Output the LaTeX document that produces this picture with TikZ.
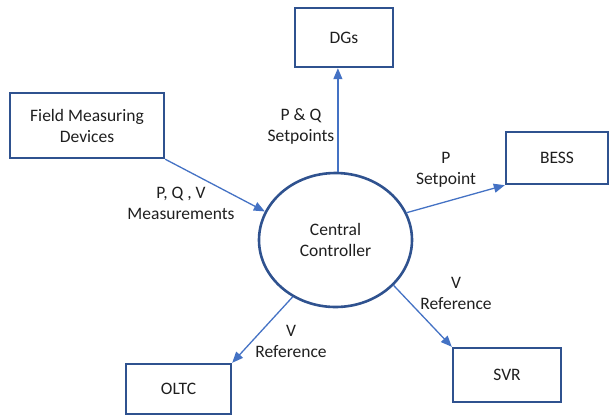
\documentclass[tikz,border=0pt]{standalone}
\usepackage{fontspec}
\setmainfont{Carlito}
\usepackage{xcolor}
\usetikzlibrary{shapes.geometric,arrows.meta}
\definecolor{boxblue}{HTML}{2F528F}
\definecolor{linkblue}{HTML}{4472C4}
\definecolor{inkgrey}{HTML}{1F1F1F}
\tikzset{
    unit/.style={
        draw=boxblue,
        line width=2.4pt,
        inner sep=0pt,
        align=center,
        text=inkgrey,
        font=\fontsize{17.5}{21}\selectfont
    },
    ctrl/.style={
        ellipse,
        draw=boxblue,
        line width=2.6pt,
        inner sep=0pt,
        minimum width=153pt,
        minimum height=134pt,
        align=center,
        text=inkgrey,
        font=\fontsize{17.5}{21}\selectfont
    },
    link/.style={
        draw=linkblue,
        line width=1.3pt,
        -{Triangle[length=11pt,width=9pt]}
    },
    lbl/.style={
        align=center,
        inner sep=0pt,
        text=inkgrey,
        font=\fontsize{17.5}{21}\selectfont
    }
}
% #1 name, #2/#3 centre, #4/#5 size, #6 text
\newcommand{\unitbox}[6] {
    \node[unit,minimum width=#4pt,minimum height=#5pt] (#1) at (#2,#3) {#6};
}

\begin{document}
\begin{tikzpicture}[x={(1pt,0pt)},y={(0pt,-1pt)}]
    \useasboundingbox (0,0) rectangle (610,416);
    \node[ctrl] (cc) at (335.5,240) {Central\\Controller};
    \unitbox{fmd}{87}{125.5}{154}{65}{Field Measuring\\Devices}
    \unitbox{dgs}{344}{37.5}{98}{59}{DGs}
    \unitbox{bess}{557}{158}{102}{52}{BESS}
    \unitbox{oltc}{178.5}{389}{105}{50}{OLTC}
    \unitbox{svr}{507}{375}{108}{54}{SVR}
    % signal flow
    \draw[link] (fmd.south east) -- (cc.158);
    \draw[link] (cc.88) -- (cc.88 |- dgs.south);
    \draw[link] (cc.21) -- (bess.south west);
    \draw[link] (cc.233) -- (oltc.north east);
    \draw[link] (cc.322) -- (svr.north west);
    % labels
    \node[lbl] (tmeas) at (181,203) {P, Q , V\\Measurements};
    \node[lbl] (tdgs) at (301,126.5) {P \& Q\\Setpoints};
    \node[lbl] (tbess) at (446,169.5) {P\\Setpoint};
    \node[lbl] (toltc) at (291,341) {V\\Reference};
    \node[lbl] (tsvr) at (456,293.5) {V\\Reference};
\end{tikzpicture}
\end{document}
